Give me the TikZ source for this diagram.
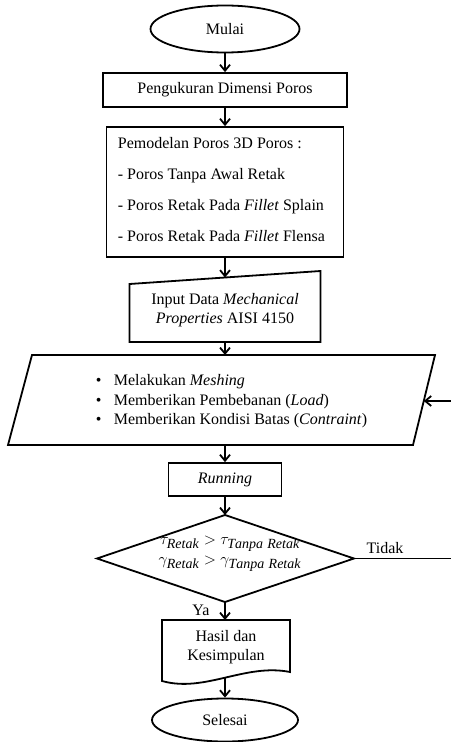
\documentclass[tikz,border=0pt]{standalone}
\usepackage{fontspec}
\setmainfont{Liberation Serif}
\DeclareMathSizes{13}{13}{10.5}{8}
\usetikzlibrary{shapes.geometric,arrows.meta,calc}
\begin{document}
\begin{tikzpicture}[x=0.75pt,y=-0.75pt, line width=1.35pt,
  font=\fontsize{12}{14}\selectfont,
  arr/.style={-{Straight Barb[length=4.5pt,width=7.5pt]}},
  box/.style={draw, rectangle, inner sep=0pt, align=center},
  term/.style={draw, ellipse, inner sep=0pt},
  txt/.style={inner sep=0pt, align=center}]
\useasboundingbox (0,0) rectangle (450,742);

% terminals and boxes
\node[term, minimum width=111.75pt, minimum height=35.25pt] (mulai) at (225,29) {Mulai};
\node[box, minimum width=183pt, minimum height=25.5pt] (ukur) at (225,90) {Pengukuran Dimensi Poros};
\node[box, minimum width=177.75pt, minimum height=97.5pt] (model) at (225,192) {};
\node[txt, anchor=west, align=left, font=\fontsize{12}{23.25}\selectfont] (modeltxt) at (117,190)
  {Pemodelan Poros 3D Poros :\\
   - Poros Tanpa Awal Retak\\
   - Poros Retak Pada \textit{Fillet} Splain\\
   - Poros Retak Pada \textit{Fillet} Flensa};

% manual input
\coordinate (iTL) at (129.5,284);
\coordinate (iTR) at (320.5,271);
\coordinate (iBR) at (320.5,342);
\coordinate (iBL) at (129.5,342);
\draw (iTL) -- (iTR) -- (iBR) -- (iBL) -- cycle;
\node[txt] (inp) at (225,310) {Input Data \textit{Mechanical}\\ \textit{Properties} AISI 4150};
\coordinate (inptop) at (225,277.5);
\coordinate (inpbot) at (225,342);

% parallelogram
\coordinate (pTL) at (32,355);
\coordinate (pTR) at (435,355);
\coordinate (pBR) at (413,445);
\coordinate (pBL) at (8,445);
\draw (pTL) -- (pTR) -- (pBR) -- (pBL) -- cycle;
\node[txt, anchor=west, align=left, font=\fontsize{12}{14.6}\selectfont] (meth) at (95,401.5)
  {\makebox[13.5pt][l]{\textbullet}Melakukan \textit{Meshing}\\
   \makebox[13.5pt][l]{\textbullet}Memberikan Pembebanan (\textit{Load})\\
   \makebox[13.5pt][l]{\textbullet}Memberikan Kondisi Batas (\textit{Contraint})};
\coordinate (partop) at (225,355);
\coordinate (parbot) at (225,445);
\coordinate (parin) at (423.8,401);

\node[box, minimum width=84.75pt, minimum height=24.75pt] (run) at (225,479.5) {\textit{Running}};

% decision
\coordinate (dT) at (225,515);
\coordinate (dR) at (354,558.5);
\coordinate (dB) at (225,602);
\coordinate (dL) at (97,558.5);
\draw (dT) -- (dR) -- (dB) -- (dL) -- cycle;
\node[txt, font=\fontsize{13}{15}\selectfont] (cond) at (230,553.5)
  {$\tau_{\mathit{Retak}} > \tau_{\mathit{Tanpa\ Retak}}$\\
   $\gamma_{\mathit{Retak}} > \gamma_{\mathit{Tanpa\ Retak}}$};

% document
\coordinate (hTL) at (162,620);
\coordinate (hTR) at (290,620);
\draw (hTL) -- (162,681) .. controls (205,693) and (245,663) .. (290,672) -- (hTR) -- cycle;
\node[txt] (hasil) at (226,647) {Hasil dan\\Kesimpulan};
\coordinate (hastop) at (225,620);
\coordinate (hasbot) at (225,677.6);

\node[term, minimum width=109.5pt, minimum height=32.25pt] (selesai) at (225,720) {Selesai};

% labels
\node[txt] (tidak) at (385,548) {Tidak};
\node[txt] (ya) at (201,610) {Ya};

% connectors
\draw[arr] (mulai) -- (ukur);
\draw[arr] (ukur) -- (model);
\draw[arr] (model) -- (inptop);
\draw[arr] (inpbot) -- (partop);
\draw[arr] (parbot) -- (run);
\draw[arr] (run) -- (dT);
\draw[arr] (dB) -- (hastop);
\draw[arr] (hasbot) -- (selesai);
\coordinate (loopA) at (453,558.5);
\coordinate (loopB) at (453,401);
\draw[arr] (dR) -- (loopA) -- (loopB) -- (parin);
\end{tikzpicture}
\end{document}
